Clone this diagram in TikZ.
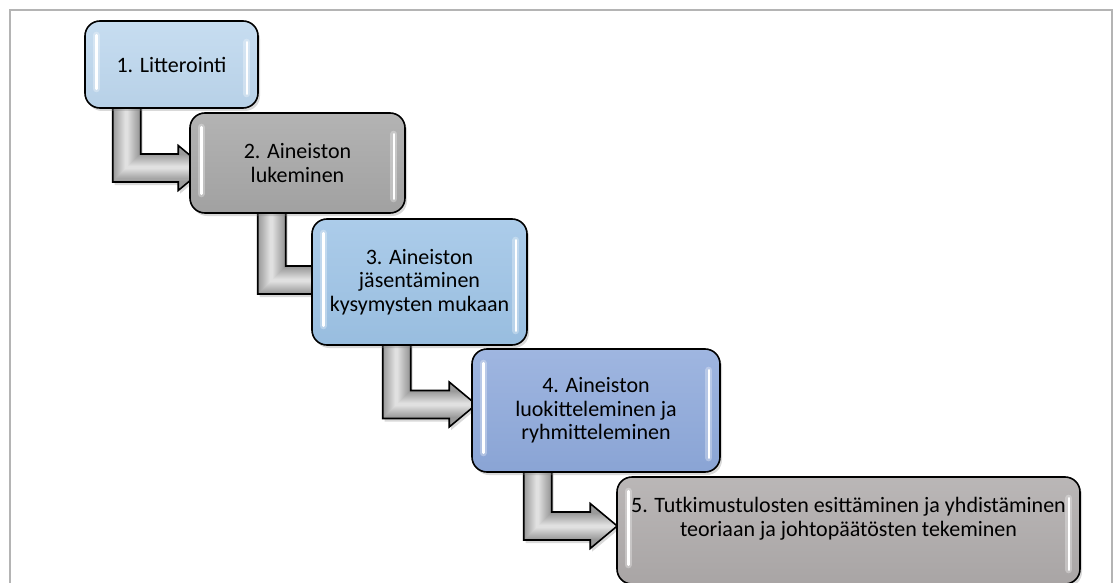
\documentclass[tikz,border=0pt]{standalone}
\usepackage{fontspec}
\setmainfont{Carlito}
\usetikzlibrary{calc,shadows}
\pgfdeclarelayer{bg}
\pgfsetlayers{bg,main}

\definecolor{paleblue}{HTML}{BDD7EE}
\definecolor{midgray}{HTML}{A6A6A6}
\definecolor{skyblue}{HTML}{9DC3E6}
\definecolor{steelblue}{HTML}{8EA9DB}
\definecolor{warmgray}{HTML}{AEAAAA}
\definecolor{framegray}{HTML}{B4B4B4}
\definecolor{arrowdark}{HTML}{9A9A9A}

\tikzset{
  stepbox/.style={draw=black, line width=1.6pt, rounded corners=15pt,
    align=center, text=black, inner sep=0pt,
    font=\fontsize{22}{23.7}\selectfont,
    top color=#1!85!white, bottom color=#1!97!black,
    drop shadow={opacity=0.3, shadow xshift=2pt, shadow yshift=-3pt}},
  gloss/.style={white, line cap=round},
  arrowbody/.style={fill=arrowdark,
    drop shadow={opacity=0.3, shadow xshift=2pt, shadow yshift=-3pt}},
  arrowline/.style={draw=black, line width=1.6pt, line join=miter},
}

% outline of a bent block arrow: #1 path options, #2 stem top-left, #3 head base centre
\newcommand\bentshape[3]{%
  \path[#1] let \p1=(#2), \p2=(#3) in
    (\x1,\y1) -- (\x1+28pt,\y1) -- (\x1+28pt,\y2+14pt) -- (\x2,\y2+14pt)
    -- (\x2,\y2+22.5pt) -- (\x2+27pt,\y2) -- (\x2,\y2-22.5pt)
    -- (\x2,\y2-14pt) -- (\x1,\y2-14pt) -- cycle;}

% shaded bent arrow: darker rim, light core
\newcommand\bentarrow[2]{%
  \bentshape{arrowbody}{#1}{#2}
  \begin{scope}
    \bentshape{clip}{#1}{#2}
    \foreach \i in {0,...,12}{
      \pgfmathsetmacro\bandw{27-2*\i}
      \pgfmathsetmacro\bandp{100-5.8*\i}
      \colorlet{bandcol}{arrowdark!\bandp!white}
      \draw[bandcol, line width=\bandw pt, line join=miter]
        let \p1=(#1), \p2=(#2) in
        (\x1+14pt,\y1) -- (\x1+14pt,\y2) -- (\x2+27pt,\y2);
    }
  \end{scope}
  \bentshape{arrowline}{#1}{#2}}

% white highlight streaks near the sides of a box
\newcommand\glossy[1]{%
  \foreach \w/\o in {7pt/0.3, 2.6pt/1}{
    \draw[gloss, line width=\w, opacity=\o]
      ($(#1.north west)+(12,15)$) -- ($(#1.south west)+(12,-20)$);
    \draw[gloss, line width=\w, opacity=\o]
      ($(#1.north east)+(-12,22)$) -- ($(#1.south east)+(-12,-15)$);
  }}

\begin{document}
\begin{tikzpicture}[x=1pt, y=-1pt]
  \useasboundingbox (0,0) rectangle (1114,583);

  % page frame
  \draw[framegray, line width=2pt] (10,590) -- (10,10) -- (1112,10) -- (1112,590);

  % process steps
  \node[stepbox=paleblue, minimum width=173pt, minimum height=87pt]
    (b1) at (171.5,64.5) {1. Litterointi};
  \node[stepbox=midgray, minimum width=215pt, minimum height=100pt]
    (b2) at (297.5,163) {2. Aineiston\\lukeminen};
  \node[stepbox=skyblue, minimum width=215pt, minimum height=126pt]
    (b3) at (419.5,282) {3. Aineiston\\jäsentäminen\\kysymysten mukaan};
  \node[stepbox=steelblue, minimum width=248pt, minimum height=123pt]
    (b4) at (596,410.5) {4. Aineiston\\luokitteleminen ja\\ryhmitteleminen};
  \node[stepbox=warmgray, minimum width=463pt, minimum height=107pt]
    (b5) at (848.5,530.5) {5. Tutkimustulosten esittäminen ja yhdistäminen\\teoriaan ja johtopäätösten tekeminen\\[4pt]};

  \glossy{b1} \glossy{b2} \glossy{b3} \glossy{b4} \glossy{b5}

  % bent arrows from each step to the next
  \coordinate (s1) at ($(b1.south west)+(28.5,-8)$);
  \coordinate (h1) at ($(b2.west)+(-11,5)$);
  \coordinate (s2) at ($(b2.south west)+(68.5,-8)$);
  \coordinate (h2) at ($(b3.west)+(6,-2)$);
  \coordinate (s3) at ($(b3.south west)+(71.5,-8)$);
  \coordinate (h3) at ($(b4.west)+(-22,-6)$);
  \coordinate (s4) at ($(b4.south west)+(52.5,-8)$);
  \coordinate (h4) at ($(b5.west)+(-26,-4.5)$);

  \begin{pgfonlayer}{bg}
    \bentarrow{s1}{h1}
    \bentarrow{s2}{h2}
    \bentarrow{s3}{h3}
    \bentarrow{s4}{h4}
  \end{pgfonlayer}
\end{tikzpicture}
\end{document}
